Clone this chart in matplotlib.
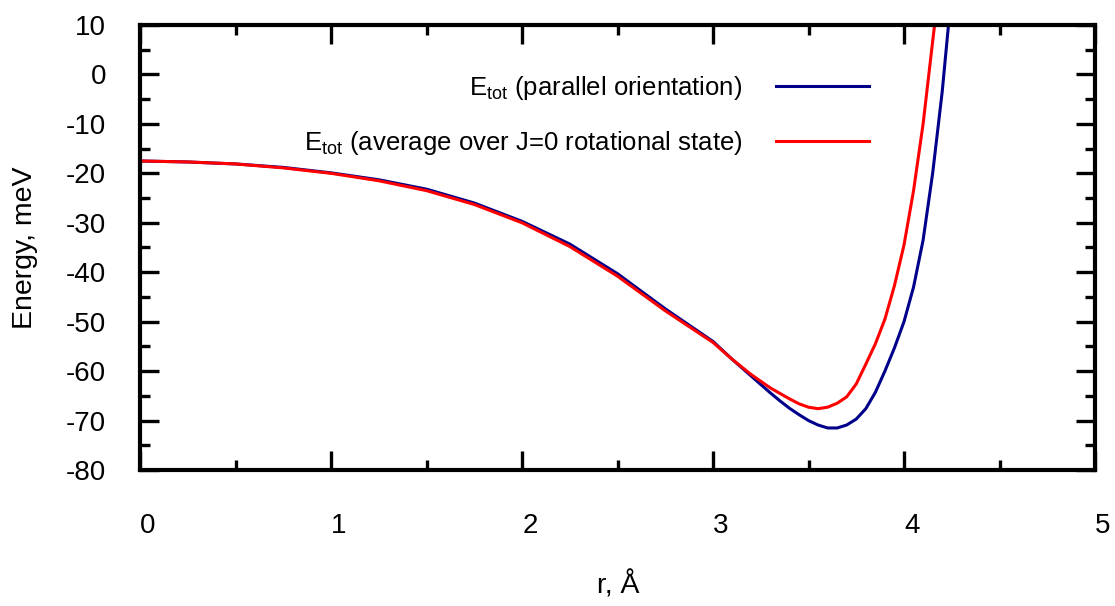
import matplotlib
matplotlib.use("Agg")
import matplotlib.pyplot as plt
import matplotlib.transforms as mtransforms
from matplotlib.ticker import MultipleLocator

plt.rcParams['font.family'] = ['Liberation Sans', 'DejaVu Sans']
plt.rcParams['mathtext.fontset'] = 'custom'
plt.rcParams['mathtext.rm'] = 'Liberation Sans'
plt.rcParams['mathtext.it'] = 'Liberation Sans:italic'
plt.rcParams['axes.unicode_minus'] = False

# ---- data ----
r_parallel = [0.0, 0.25, 0.5, 0.75, 1.0, 1.25, 1.5, 1.75, 2.0, 2.25, 2.5, 2.75,
              3.0, 3.1, 3.2, 3.3, 3.35, 3.4, 3.45, 3.5, 3.55, 3.6, 3.65, 3.7,
              3.75, 3.8, 3.85, 3.9, 3.95, 4.0, 4.05, 4.1, 4.15, 4.2, 4.25]
E_parallel = [-17.5, -17.7, -18.1, -18.8, -19.9, -21.3, -23.2, -26.0, -29.7,
              -34.3, -40.3, -47.4, -54.0, -57.6, -61.0, -64.4, -66.0, -67.5,
              -68.8, -70.0, -70.9, -71.5, -71.5, -70.9, -69.7, -67.6, -64.3,
              -60.0, -55.3, -50.0, -43.0, -33.5, -20.0, -3.5, 17.0]

r_average = [0.0, 0.25, 0.5, 0.75, 1.0, 1.25, 1.5, 1.75, 2.0, 2.25, 2.5, 2.75,
             3.0, 3.1, 3.2, 3.3, 3.4, 3.45, 3.5, 3.55, 3.6, 3.65, 3.7, 3.75,
             3.8, 3.85, 3.9, 3.95, 4.0, 4.05, 4.1, 4.13, 4.16, 4.2]
E_average = [-17.5, -17.7, -18.1, -18.9, -20.0, -21.5, -23.5, -26.3, -30.0,
             -34.8, -40.8, -47.8, -54.2, -57.6, -60.7, -63.4, -65.6, -66.6,
             -67.3, -67.6, -67.3, -66.5, -65.2, -62.6, -58.6, -54.5, -49.5,
             -42.7, -34.5, -23.5, -10.0, 0.0, 10.0, 24.0]

label_parallel = r'E$_{\rm tot}$ (parallel orientation)'
label_average = r'E$_{\rm tot}$ (average over J=0 rotational state)'

x_ticks = [0, 1, 2, 3, 4, 5]
y_ticks = [10, 0, -10, -20, -30, -40, -50, -60, -70, -80]

# ---- figure ----
fig = plt.figure(figsize=(11.15, 6.06), dpi=100)
ax = fig.add_axes([140/1115, 1-470/606, 955/1115, 445/606])

ax.plot(r_parallel, E_parallel, color='#00008b', lw=2.2, label=label_parallel)
ax.plot(r_average, E_average, color='#ff0000', lw=2.2, label=label_average)

ax.set_xlim(0, 5)
ax.set_ylim(-80, 10)
ax.set_xticks(x_ticks)
ax.set_yticks(y_ticks)
ax.xaxis.set_minor_locator(MultipleLocator(0.5))
ax.yaxis.set_minor_locator(MultipleLocator(5))

for s in ax.spines.values():
    s.set_linewidth(3)

ax.tick_params(which='both', direction='in', top=True, right=True, width=2.4,
               labelsize=20)
ax.tick_params(which='major', length=14)
ax.tick_params(which='minor', length=7)
ax.tick_params(axis='x', which='major', pad=31)
ax.tick_params(axis='y', which='major', pad=24.5)

offset = mtransforms.ScaledTranslation(8/100, 0, fig.dpi_scale_trans)
for lbl in ax.get_xticklabels():
    lbl.set_transform(lbl.get_transform() + offset)

ax.set_xlabel('r, Å', fontsize=20.5)
ax.xaxis.label.set_va('center')
ax.xaxis.set_label_coords((618-140)/955, (470-585)/445)
ax.set_ylabel('Energy, meV', fontsize=20.5)
ax.yaxis.label.set_va('center')
ax.yaxis.set_label_coords((25-140)/955, 0.5)

leg = ax.legend(loc='center right', bbox_to_anchor=((882-140)/955, (470-115.5)/445),
                frameon=False, markerfirst=False, fontsize=18.5, borderpad=0,
                handlelength=3.62, handletextpad=1.3, labelspacing=1.06)

fig.savefig('out.png', dpi=100)
